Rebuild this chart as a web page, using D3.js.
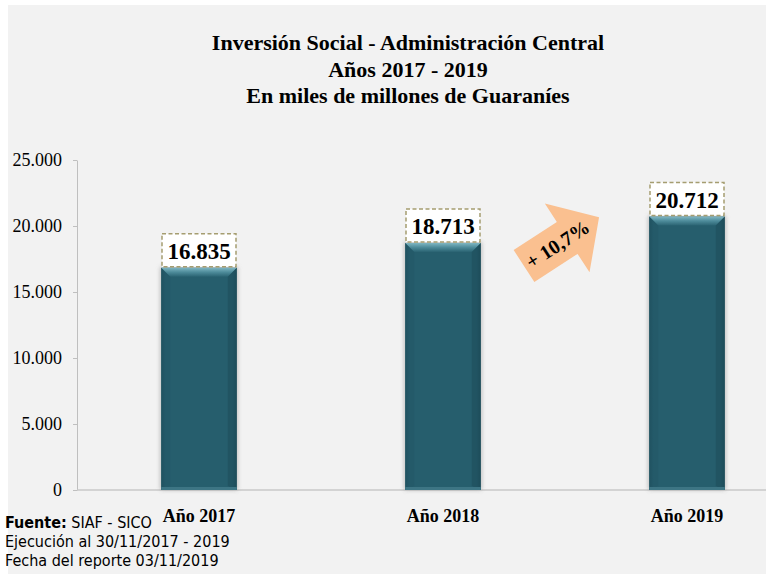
<!DOCTYPE html>
<html><head><meta charset="utf-8">
<script src="https://cdn.jsdelivr.net/npm/d3@7/dist/d3.min.js"></script>
<style>body{margin:0;background:#fff}svg{display:block}</style>
</head><body>
<svg id="c" width="766" height="574"></svg>
<script>
const categories = ["Año 2017", "Año 2018", "Año 2019"];
const values = [16835, 18713, 20712];
const valueLabels = ["16.835", "18.713", "20.712"];
const yTicks = [0, 5000, 10000, 15000, 20000, 25000];
const yTickLabels = ["0", "5.000", "10.000", "15.000", "20.000", "25.000"];
const titleLines = ["Inversión Social - Administración Central", "Años 2017 - 2019", "En miles de millones  de Guaraníes"];
const growthLabel = "+ 10,7%";

const svg = d3.select("#c");
svg.append("rect").attr("x", 8).attr("y", 5).attr("width", 758).attr("height", 569).attr("fill", "#f2f2f2");

const defs = svg.append("defs");
const g1 = defs.append("linearGradient").attr("id", "bev").attr("x1", 0).attr("y1", 0).attr("x2", 0).attr("y2", 1);
g1.append("stop").attr("offset", 0).attr("stop-color", "#7fb6c2");
g1.append("stop").attr("offset", 0.5).attr("stop-color", "#4c8a99");
g1.append("stop").attr("offset", 1).attr("stop-color", "#2a6372");
const g2 = defs.append("linearGradient").attr("id", "side").attr("x1", 0).attr("y1", 0).attr("x2", 1).attr("y2", 0);
g2.append("stop").attr("offset", 0).attr("stop-color", "#1e4f5c");
g2.append("stop").attr("offset", 0.06).attr("stop-color", "#265e6d");
g2.append("stop").attr("offset", 0.94).attr("stop-color", "#265e6d");
g2.append("stop").attr("offset", 1).attr("stop-color", "#1e4f5c");
const sh = defs.append("filter").attr("id", "sh").attr("x", -0.2).attr("y", -0.2).attr("width", 1.4).attr("height", 1.4);
sh.append("feGaussianBlur").attr("stdDeviation", 2);

const x = d3.scaleBand().domain(categories).range([77, 809]).paddingInner(0.69).paddingOuter(0.345);
const y = d3.scaleLinear().domain([0, 25000]).range([490, 160]);

// axes
const ya = svg.append("g").attr("transform", "translate(77,0)")
  .call(d3.axisLeft(y).tickValues(yTicks).tickFormat((d, i) => yTickLabels[i]).tickSize(4).tickSizeOuter(0));
ya.select(".domain").attr("stroke", "#bfbfbf");
ya.selectAll(".tick line").attr("stroke", "#bfbfbf");
ya.selectAll(".tick text").attr("x", -15).attr("fill", "#000")
  .style("font-family", "'Liberation Serif','Times New Roman',serif").style("font-size", "18px");

svg.append("line").attr("x1", 77).attr("x2", 766).attr("y1", y(0)).attr("y2", y(0)).attr("stroke", "#c8c8c8").attr("stroke-width", 1.5);

// bars
const bars = svg.append("g").selectAll("g").data(values).join("g");
bars.append("rect").attr("x", (d, i) => x(categories[i]) - 1).attr("y", d => y(d) - 1)
  .attr("width", x.bandwidth() + 2).attr("height", d => y(0) - y(d) + 1).attr("fill", "#9a9a9a").attr("opacity", 0.6).attr("filter", "url(#sh)");
bars.append("rect").attr("x", (d, i) => x(categories[i])).attr("y", d => y(d))
  .attr("width", x.bandwidth()).attr("height", d => y(0) - y(d)).attr("fill", "url(#side)");
bars.append("path").attr("d", (d, i) => {
  const x0 = x(categories[i]), w = x.bandwidth(), t = y(d);
  return `M${x0},${t}H${x0 + w}L${x0 + w - 9},${t + 9}H${x0 + 9}Z`;
}).attr("fill", "url(#bev)");
bars.append("path").attr("d", (d, i) => {
  const x0 = x(categories[i]), w = x.bandwidth(), t = y(d);
  return `M${x0},${t}L${x0 + 9},${t + 9}V${y(0) - 4}L${x0},${y(0)}Z`;
}).attr("fill", "#225665").attr("opacity", 0.5);
bars.append("path").attr("d", (d, i) => {
  const x0 = x(categories[i]), w = x.bandwidth(), t = y(d);
  return `M${x0 + w},${t}L${x0 + w - 9},${t + 9}V${y(0) - 4}L${x0 + w},${y(0)}Z`;
}).attr("fill", "#1b4a57").attr("opacity", 0.5);
bars.append("rect").attr("x", (d, i) => x(categories[i])).attr("y", y(0) - 3)
  .attr("width", x.bandwidth()).attr("height", 3).attr("fill", "#3d7584");

// value labels
const lab = svg.append("g").selectAll("g").data(values).join("g");
lab.append("rect").attr("x", (d, i) => x(categories[i]) + x.bandwidth() / 2 - 37).attr("y", d => y(d) - 34)
  .attr("width", 74).attr("height", 33).attr("fill", "#fff").attr("stroke", "#a59d70").attr("stroke-width", 1.5).attr("stroke-dasharray", "4,2.5");
lab.append("text").attr("x", (d, i) => x(categories[i]) + x.bandwidth() / 2).attr("y", d => y(d) - 9)
  .attr("text-anchor", "middle").style("font-family", "'Liberation Serif','Times New Roman',serif")
  .style("font-size", "23px").style("font-weight", "bold").text((d, i) => valueLabels[i]);

// category labels
svg.append("g").selectAll("text").data(categories).join("text")
  .attr("x", d => x(d) + x.bandwidth() / 2).attr("y", 522).attr("text-anchor", "middle")
  .style("font-family", "'Liberation Serif','Times New Roman',serif").style("font-size", "18px").style("font-weight", "bold")
  .text(d => d);

// title
svg.append("g").selectAll("text").data(titleLines).join("text")
  .attr("x", 408).attr("y", (d, i) => 50 + i * 26.5).attr("text-anchor", "middle")
  .style("font-family", "'Liberation Serif','Times New Roman',serif").style("font-size", "22px").style("font-weight", "bold")
  .text(d => d);

// growth arrow
const ag = svg.append("g").attr("transform", "translate(524,266) rotate(-33)");
ag.append("path").attr("d", "M0,-19H51.5V-41L89.5,0L51.5,41V19H0Z").attr("fill", "#fac090");
ag.append("text").attr("x", 40).attr("y", 7).attr("text-anchor", "middle")
  .style("font-family", "'Liberation Serif','Times New Roman',serif").style("font-size", "20px").style("font-weight", "bold")
  .text(growthLabel);

// footnote
const fn = svg.append("g").style("font-family", "'Liberation Sans Narrow','DejaVu Sans Condensed',sans-serif").style("font-size", "16px");
const t1 = fn.append("text").attr("x", 5).attr("y", 528);
t1.append("tspan").style("font-weight", "bold").text("Fuente:");
t1.append("tspan").text(" SIAF - SICO");
fn.append("text").attr("x", 5).attr("y", 547).text("Ejecución al 30/11/2017 -  2019");
fn.append("text").attr("x", 5).attr("y", 566).text("Fecha del reporte 03/11/2019");
</script>
</body></html>
